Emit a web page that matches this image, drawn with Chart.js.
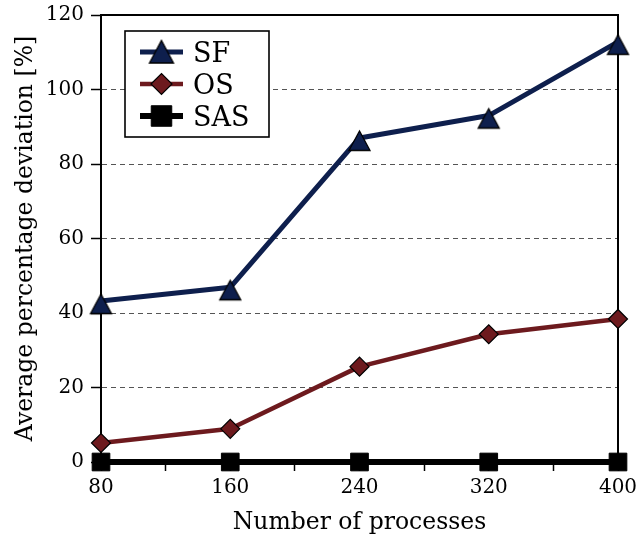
<!DOCTYPE html>
<html><head><meta charset="utf-8">
<script src="https://cdn.jsdelivr.net/npm/chart.js@4/dist/chart.umd.min.js"></script>
<style>html,body{margin:0;padding:0;background:#fff}#wrap{width:637px;height:537px}</style>
</head><body><div id="wrap"><canvas id="c" width="637" height="537"></canvas></div>
<script>
const processes = [80, 160, 240, 320, 400];
const xTickLabels = ['80', '160', '240', '320', '400'];
const seriesNames = ['SF', 'OS', 'SAS'];
const sfValues = [43.2, 46.9, 87.0, 93.0, 112.8];
const osValues = [5.1, 8.9, 25.6, 34.3, 38.4];
const sasValues = [0, 0, 0, 0, 0];
const xTitle = 'Number of processes';
const yTitle = 'Average percentage deviation [%]';

const FONT = '"DejaVu Serif", serif';
const NAVY = '#0e1f4d';
const RED = '#6d1a1e';

function triCanvas(halfW, up, down, fill) {
  const pad = 2;
  const w = Math.ceil(2 * halfW + 2 * pad);
  const h = 2 * Math.ceil(Math.max(up, down) + pad);
  const c = document.createElement('canvas');
  c.width = w; c.height = h;
  const g = c.getContext('2d');
  const cx = w / 2, cy = h / 2;
  g.beginPath();
  g.moveTo(cx, cy - up);
  g.lineTo(cx + halfW, cy + down);
  g.lineTo(cx - halfW, cy + down);
  g.closePath();
  g.fillStyle = fill; g.fill();
  g.lineWidth = 1.3; g.strokeStyle = '#000'; g.lineJoin = 'miter'; g.stroke();
  return c;
}
const triPlot = triCanvas(10.5, 7, 12.5, NAVY);
const triLegend = triCanvas(12, 11.5, 11, NAVY);

const toXY = vals => vals.map((v, i) => ({x: processes[i], y: v}));

const datasets = [
  {label: seriesNames[0], data: toXY(sfValues), borderColor: NAVY, borderWidth: 5,
   pointStyle: triPlot, pointRadius: 10, pointBackgroundColor: NAVY, pointBorderColor: '#000',
   legendMarker: triLegend},
  {label: seriesNames[1], data: toXY(osValues), borderColor: RED, borderWidth: 4.5,
   pointStyle: 'rectRot', pointRadius: 9.5, pointBackgroundColor: RED, pointBorderColor: '#000', pointBorderWidth: 1.2,
   legendRadius: 10.5},
  {label: seriesNames[2], data: toXY(sasValues), borderColor: '#000', borderWidth: 6,
   pointStyle: 'rect', pointRadius: 12.5, pointBackgroundColor: '#000', pointBorderColor: '#000', pointBorderWidth: 1,
   legendRadius: 14.5}
].map(d => Object.assign({clip: false, tension: 0, fill: false, pointHoverRadius: d.pointRadius, borderJoinStyle: 'round'}, d));

const framePlugin = {
  id: 'frame',
  beforeDatasetsDraw(chart) {
    const {ctx, chartArea: a} = chart;
    ctx.save();
    ctx.strokeStyle = '#000'; ctx.lineWidth = 2;
    ctx.strokeRect(a.left, a.top, a.right - a.left, a.bottom - a.top);
    ctx.restore();
  }
};

const legendPlugin = {
  id: 'boxLegend',
  afterDatasetsDraw(chart) {
    const {ctx, chartArea: a} = chart;
    const bx = a.left + 24, by = a.top + 16, bw = 144, bh = 106;
    ctx.save();
    ctx.fillStyle = '#fff';
    ctx.fillRect(bx, by, bw, bh);
    ctx.strokeStyle = '#000'; ctx.lineWidth = 1.6;
    ctx.strokeRect(bx, by, bw, bh);
    chart.data.datasets.forEach((ds, i) => {
      const y = by + 21 + i * 32;
      const x1 = bx + 15, x2 = bx + 58, xm = (x1 + x2) / 2;
      ctx.beginPath();
      ctx.moveTo(x1, y); ctx.lineTo(x2, y);
      ctx.strokeStyle = ds.borderColor; ctx.lineWidth = ds.borderWidth; ctx.lineCap = 'butt';
      ctx.stroke();
      if (ds.legendMarker) {
        ctx.drawImage(ds.legendMarker, xm - ds.legendMarker.width / 2, y - ds.legendMarker.height / 2);
      } else {
        ctx.fillStyle = ds.pointBackgroundColor; ctx.strokeStyle = ds.pointBorderColor;
        ctx.lineWidth = ds.pointBorderWidth || 1;
        Chart.helpers.drawPoint(ctx, {pointStyle: ds.pointStyle, radius: ds.legendRadius, borderWidth: ds.pointBorderWidth || 1, rotation: 0}, xm, y);
      }
      ctx.fillStyle = '#000';
      ctx.font = '27px ' + FONT;
      ctx.textBaseline = 'alphabetic'; ctx.textAlign = 'left';
      ctx.fillText(ds.label, bx + 68, y + 10);
    });
    ctx.restore();
  }
};

new Chart(document.getElementById('c'), {
  type: 'line',
  data: {datasets},
  options: {
    responsive: false, animation: false, devicePixelRatio: 1,
    layout: {padding: {left: 0, right: 19, top: 13, bottom: 0}},
    plugins: {legend: {display: false}, tooltip: {enabled: false}},
    scales: {
      x: {
        type: 'linear', min: 80, max: 400,
        afterFit: s => { s.height = 75; s.paddingLeft = 0; s.paddingRight = 0; },
        ticks: {stepSize: 40, autoSkip: false, maxRotation: 0, padding: 5, color: '#000',
          font: {family: FONT, size: 20},
          callback: v => { const i = processes.indexOf(v); return i >= 0 ? xTickLabels[i] : ''; }},
        grid: {drawOnChartArea: false, drawTicks: true, tickLength: 9, tickColor: '#000', tickWidth: 1.5},
        border: {display: true, color: '#000', width: 2},
        title: {display: true, text: xTitle, color: '#000', font: {family: FONT, size: 23.5}, padding: {top: 0, bottom: 0}}
      },
      y: {
        min: 0, max: 120,
        afterFit: s => { s.width = 101; s.paddingTop = 0; s.paddingBottom = 0; },
        ticks: {stepSize: 20, padding: 7, color: '#000', font: {family: FONT, size: 20}},
        grid: {color: c => (c.tick && (c.tick.value === 0 || c.tick.value === 120)) ? 'rgba(0,0,0,0)' : '#555',
          lineWidth: 1, drawTicks: true, tickLength: 10, tickColor: '#000', tickWidth: 1.5, tickBorderDash: []},
        border: {display: true, color: '#000', width: 2, dash: [5, 4]},
        title: {display: true, text: yTitle, color: '#000', font: {family: FONT, size: 23.5}, padding: {top: 12, bottom: 0}}
      }
    }
  },
  plugins: [framePlugin, legendPlugin]
});
</script></body></html>
